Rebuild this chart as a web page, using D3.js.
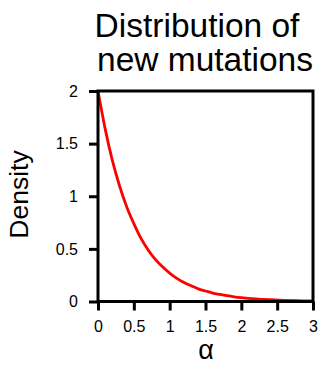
<!DOCTYPE html>
<html><head><meta charset="utf-8">
<script src="https://cdn.jsdelivr.net/npm/d3@7"></script>
<style>html,body{margin:0;padding:0;background:#fff;}svg{display:block;font-family:"Liberation Sans",Arial,sans-serif;}</style>
</head><body>
<script>
const alphaValues = [0,0.1,0.2,0.3,0.4,0.5,0.6,0.7,0.8,0.9,1.0,1.1,1.2,1.3,1.4,1.5,1.6,1.7,1.8,1.9,2.0,2.2,2.4,2.6,2.8,3.0];
const densityValues = [2,1.64,1.34,1.10,0.90,0.74,0.60,0.49,0.40,0.33,0.27,0.22,0.18,0.15,0.12,0.10,0.08,0.067,0.055,0.045,0.037,0.025,0.017,0.011,0.007,0.005];
const xTicks = [0,0.5,1,1.5,2,2.5,3];
const yTicks = [0,0.5,1,1.5,2];
const titleLines = ["Distribution of","new mutations"];

const W=323,H=365;
const L=98,T=91,R=313,B=301.5;
const svg=d3.select("body").append("svg").attr("width",W).attr("height",H);
const x=d3.scaleLinear().domain([0,3]).range([L,R]);
const y=d3.scaleLinear().domain([0,2]).range([B,T]);

// curve
const pts=alphaValues.map((a,i)=>[a,densityValues[i]]);
svg.append("path").datum(pts)
  .attr("fill","none").attr("stroke","#ff0000").attr("stroke-width",2.8)
  .attr("d",d3.line().x(d=>x(d[0])).y(d=>y(d[1])).curve(d3.curveMonotoneX));

// box
svg.append("rect").attr("x",L).attr("y",T).attr("width",R-L).attr("height",B-T)
  .attr("fill","none").attr("stroke","#000").attr("stroke-width",3);

// axes
const xAxis=svg.append("g").attr("transform",`translate(0,${B})`)
  .call(d3.axisBottom(x).tickValues(xTicks).tickSize(9).tickPadding(10).tickFormat(d3.format("")));
const yAxis=svg.append("g").attr("transform",`translate(${L},0)`)
  .call(d3.axisLeft(y).tickValues(yTicks).tickSize(9).tickPadding(11).tickFormat(d3.format("")));
[xAxis,yAxis].forEach(g=>{
  g.attr("font-size",16).attr("font-family","'Liberation Sans',Arial,sans-serif");
  g.select(".domain").remove();
  g.selectAll(".tick line").attr("stroke","#000").attr("stroke-width",3);
  g.selectAll(".tick text").attr("fill","#000");
});

// title
const titleX=[197,205];
svg.append("g").selectAll("text").data(titleLines).join("text")
  .attr("text-anchor","middle").attr("font-size",33.5).attr("fill","#000")
  .attr("x",(d,i)=>titleX[i]).attr("y",(d,i)=>37+i*34).text(d=>d);

// axis labels
svg.append("text").attr("x",206).attr("y",359).attr("text-anchor","middle")
  .attr("font-size",27).attr("fill","#000").text("α");
svg.append("text").attr("transform","translate(28,194.5) rotate(-90)").attr("text-anchor","middle")
  .attr("font-size",26.5).attr("fill","#000").text("Density");
</script>
</body></html>
